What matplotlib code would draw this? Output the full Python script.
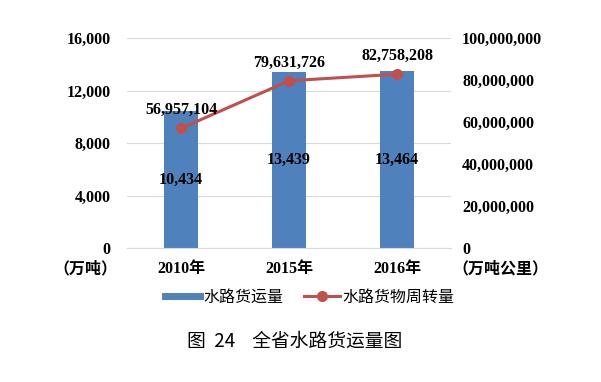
import matplotlib
matplotlib.use("Agg")
import matplotlib.pyplot as plt
from matplotlib.ticker import FuncFormatter, FixedLocator
from matplotlib.lines import Line2D

categories = ["2010年", "2015年", "2016年"]
freight_volume = [10434, 13439, 13464]            # 万吨
freight_turnover = [56957104, 79631726, 82758208]  # 万吨公里
left_ticks = [0, 4000, 8000, 12000, 16000]
right_ticks = [0, 20000000, 40000000, 60000000, 80000000, 100000000]

BLUE = "#4F81BD"
RED = "#C0504D"
SERIF = ["Liberation Serif", "Noto Sans CJK SC"]
CJK = ["Noto Sans CJK SC", "DejaVu Sans"]
FS = 11.5

fig = plt.figure(figsize=(6.01, 3.82), dpi=100)
W, H = 601, 382
ax = fig.add_axes([127 / W, 1 - 248 / H, 324 / W, 210 / H])
ax2 = ax.twinx()

x = list(range(len(categories)))
ax.bar(x, freight_volume, width=0.31, color=BLUE, zorder=2)
ax.set_xlim(-0.5, 2.5)
ax.set_ylim(0, 16000)
ax.yaxis.set_major_locator(FixedLocator(left_ticks))
ax.yaxis.set_major_formatter(FuncFormatter(lambda v, p: f"{int(v):,}"))
ax.grid(axis="y", color="#D9D9D9", linewidth=0.8, zorder=0)
ax.set_axisbelow(True)
for s in ["top", "left", "right"]:
    ax.spines[s].set_visible(False)
ax.spines["bottom"].set_color("#D9D9D9")
ax.tick_params(axis="both", length=0)
ax.set_xticks(x)
ax.set_xticklabels(categories)
ax.tick_params(axis="x", pad=9)
ax.tick_params(axis="y", pad=12)
for lab in ax.get_xticklabels() + ax.get_yticklabels():
    lab.set_fontfamily(SERIF)
    lab.set_fontweight("bold")
    lab.set_fontsize(FS)

for xi, v in zip(x, freight_volume):
    ax.text(xi, v / 2, f"{v:,}", ha="center", va="center", fontsize=FS,
            fontweight="bold", family=SERIF, zorder=5)

ax2.plot(x, freight_turnover, color=RED, linewidth=2.2, marker="o",
         markersize=7, zorder=4)
ax2.set_ylim(0, 100000000)
ax2.yaxis.set_major_locator(FixedLocator(right_ticks))
ax2.yaxis.set_major_formatter(FuncFormatter(lambda v, p: f"{int(v):,}"))
for s in ["top", "left", "right", "bottom"]:
    ax2.spines[s].set_visible(False)
ax2.tick_params(axis="y", length=0, pad=8)
for lab in ax2.get_yticklabels():
    lab.set_fontfamily(SERIF)
    lab.set_fontweight("bold")
    lab.set_fontsize(FS)
for xi, v in zip(x, freight_turnover):
    ax2.annotate(f"{v:,}", (xi, v), xytext=(0, 13), textcoords="offset points",
                 ha="center", va="center", fontsize=FS, fontweight="bold",
                 family=SERIF, zorder=6)

fig.text(85 / W, 1 - 269 / H, "（万吨）", ha="center", va="center",
         fontsize=FS, fontweight="bold", family=SERIF)
fig.text(500 / W, 1 - 269 / H, "（万吨公里）", ha="center", va="center",
         fontsize=FS, fontweight="bold", family=SERIF)

handles = [Line2D([0], [0], color=BLUE, linewidth=5),
           Line2D([0], [0], color=RED, linewidth=2.2, marker="o", markersize=7)]
fig.legend(handles, ["水路货运量", "水路货物周转量"], loc="center",
           bbox_to_anchor=(310 / W, 1 - 297 / H), ncol=2, frameon=False,
           prop={"family": CJK, "size": FS}, handlelength=2.2,
           columnspacing=1.3, handletextpad=0.2)

fig.text(295 / W, 1 - 341 / H, "图  24    全省水路货运量图", ha="center",
         va="center", fontsize=13.5, family=CJK)

fig.savefig("out.png", dpi=100)
